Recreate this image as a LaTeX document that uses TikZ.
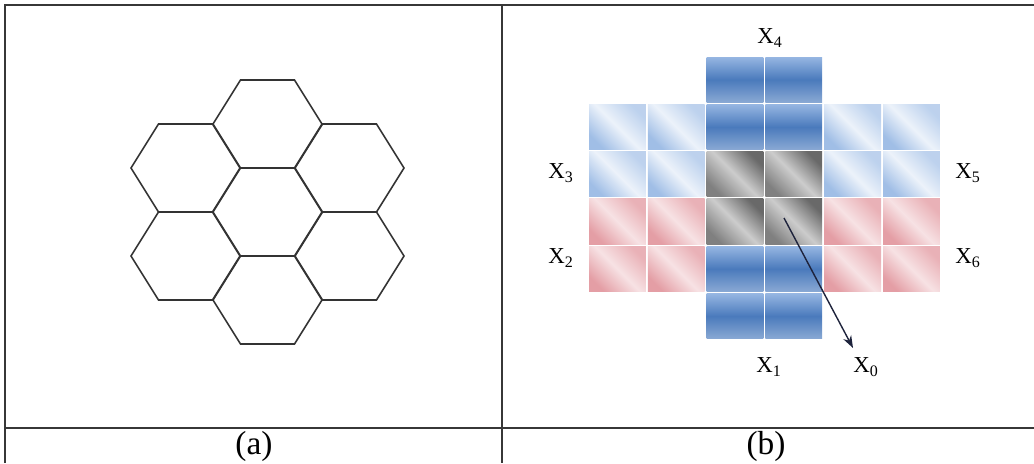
\documentclass[tikz,border=0pt]{standalone}
\usepackage{fontspec}
\setmainfont{Liberation Serif}
\definecolor{CellBlue}{RGB}{74,122,188}
\definecolor{CellBlueLight}{RGB}{150,182,226}
\definecolor{SideBlue}{RGB}{160,190,230}
\definecolor{SidePink}{RGB}{228,158,165}
\definecolor{CoreGray}{RGB}{105,105,105}
\definecolor{FrameGray}{RGB}{55,55,55}
\definecolor{ArrowNavy}{RGB}{30,35,60}
\usetikzlibrary{arrows.meta}

\begin{document}
\begin{tikzpicture}[x=0.02cm, y=-0.02cm,
	frameline/.style={draw=FrameGray, line width=1.1pt},
	hexline/.style={draw=black!80, line width=0.9pt},
	bluecell/.style={top color=CellBlueLight, bottom color=CellBlue!65!white, middle color=CellBlue},
	sidebluecell/.style={top color=SideBlue!70!white, bottom color=SideBlue, middle color=SideBlue!20!white, shading angle=-45},
	pinkcell/.style={top color=SidePink!80!white, bottom color=SidePink, middle color=SidePink!30!white, shading angle=-45},
	graycell/.style={top color=CoreGray, bottom color=CoreGray!85, middle color=black!20, shading angle=-45},
	xlabel/.style={font=\fontsize{13}{15}\selectfont, inner sep=0pt},
	caption/.style={font=\fontsize{19}{22}\selectfont, inner sep=0pt}]
	\useasboundingbox (0,0) rectangle (1034,463);
	% tabla
	\draw[frameline] (5,463) -- (5,5) -- (1034,5);
	\draw[frameline] (502,5) -- (502,463);
	\draw[frameline] (5,428) -- (1034,428);
	\node[caption] (capa) at (254,446) {(a)};
	\node[caption] (capb) at (766,446) {(b)};
	% (a) hexagonos
	\foreach \cx/\cy in {267.5/212, 267.5/124, 267.5/300, 185.5/168, 349.5/168, 185.5/256, 349.5/256}{
		\draw[hexline] (\cx-54.5,\cy) -- (\cx-27,\cy-44) -- (\cx+27,\cy-44)
			-- (\cx+54.5,\cy) -- (\cx+27,\cy+44) -- (\cx-27,\cy+44) -- cycle;}
	% (b) cuadricula
	\foreach \i in {0,1,4,5}{
		\foreach \j in {1,2}{\shade[sidebluecell]
			({588+58.8*\i+1},{56+47.3*\j+1}) rectangle ({588+58.8*(\i+1)-1},{56+47.3*(\j+1)-1});}
		\foreach \j in {3,4}{\shade[pinkcell]
			({588+58.8*\i+1},{56+47.3*\j+1}) rectangle ({588+58.8*(\i+1)-1},{56+47.3*(\j+1)-1});}}
	\foreach \i in {2,3}{
		\foreach \j in {0,1,4,5}{\shade[bluecell]
			({588+58.8*\i+1},{56+47.3*\j+1}) rectangle ({588+58.8*(\i+1)-1},{56+47.3*(\j+1)-1});}
		\foreach \j in {2,3}{\shade[graycell]
			({588+58.8*\i+1},{56+47.3*\j+1}) rectangle ({588+58.8*(\i+1)-1},{56+47.3*(\j+1)-1});}}
	% etiquetas
	\node[xlabel] (x4) at (770,38) {X\textsubscript{4}};
	\node[xlabel] (x3) at (561,173) {X\textsubscript{3}};
	\node[xlabel] (x5) at (968,173) {X\textsubscript{5}};
	\node[xlabel] (x2) at (561,258) {X\textsubscript{2}};
	\node[xlabel] (x6) at (968,258) {X\textsubscript{6}};
	\node[xlabel] (x1) at (769,367) {X\textsubscript{1}};
	\node[xlabel] (x0) at (866,367) {X\textsubscript{0}};
	% flecha
	\coordinate (tail) at (784,218);
	\coordinate (head) at (853,348);
	\draw[ArrowNavy, line width=0.8pt, -{Stealth[length=7pt, width=5pt]}] (tail) -- (head);
\end{tikzpicture}
\end{document}
